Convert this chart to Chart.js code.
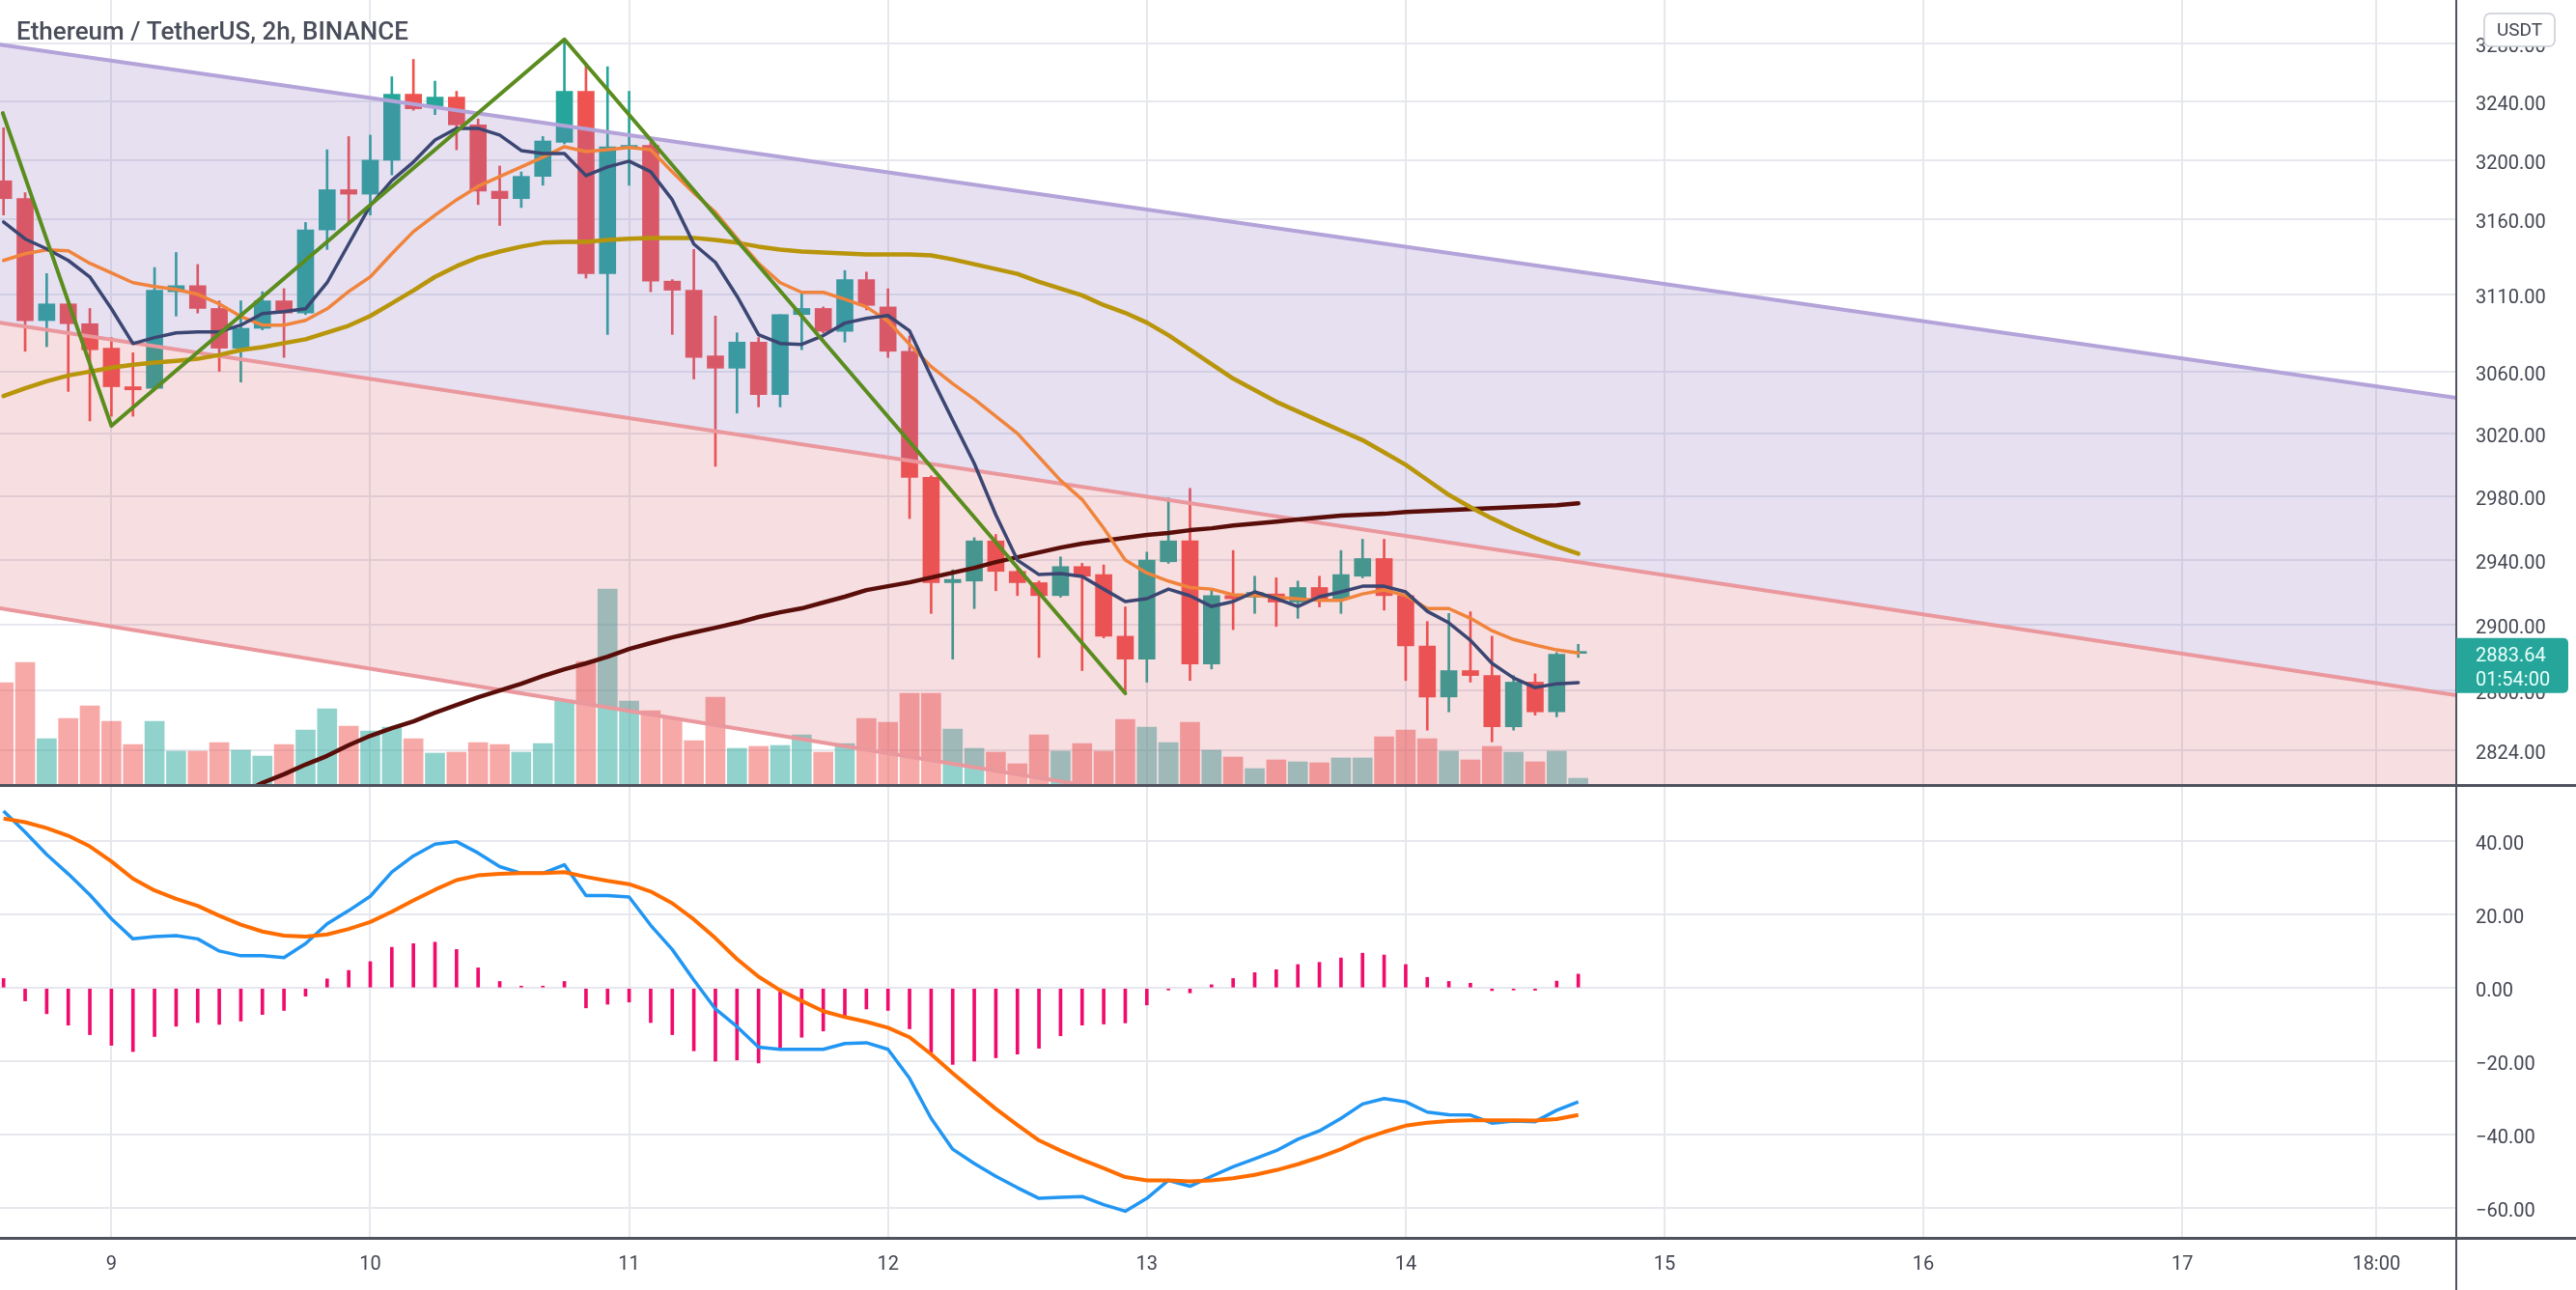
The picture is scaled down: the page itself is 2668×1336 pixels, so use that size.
<!DOCTYPE html>
<html>
<head>
<meta charset="utf-8">
<script src="https://cdn.jsdelivr.net/npm/chart.js@4.4.1/dist/chart.umd.min.js"></script>
<style>
html,body{margin:0;padding:0;background:#ffffff;overflow:hidden;}
#wrap{position:relative;width:2668px;height:1336px;}
canvas{position:absolute;left:0;}
#c1{top:0;}
#c2{top:812px;}
</style>
</head>
<body>
<div id="wrap">
<canvas id="c1" width="2668" height="812"></canvas>
<canvas id="c2" width="2668" height="524"></canvas>
</div>
<script>
// ---------------- DATA ----------------
const title = 'Ethereum / TetherUS, 2h, BINANCE';
const currencyLabel = 'USDT';
const lastPrice = 2883.64;
const countdown = '01:54:00';

// first bar: day 8, 14:00 ; 2h bars
const FIRST_BAR_DAY = 8 + 14 / 24;
const BAR_HOURS = 2;

const open = [3186,3174,3093,3104,3091,3075,3050,3049,3112,3116,
  3101,3075,3088,3106,3098,3153,3180,3177,3200,3245,
  3237,3243,3224,3179,3174,3189,3212,3247,3124,3208,
  3210,3119,3113,3070,3062,3079,3045,3097,3101,3086,
  3120,3102,3073,2992,2926,2927,2952,2933,2926,2918,
  2936,2931,2893,2879,2939,2952,2876,2918,2917,2919,
  2914,2923,2916,2930,2941,2918,2887,2856,2872,2869,
  2838,2865,2847,2882.5];
const high = [3222,3178,3124,3106,3101,3082,3072,3128,3138,3130,
  3106,3106,3112,3114,3158,3207,3216,3217,3257,3269,
  3254,3247,3228,3196,3192,3216,3283,3265,3264,3247,
  3212,3120,3140,3096,3085,3082,3097,3112,3102,3126,
  3125,3114,3083,2993,2934,2954,2956,2934,2927,2942,
  2938,2937,2911,2945,2979,2985,2922,2946,2930,2929,
  2927,2930,2946,2953,2953,2919,2902,2907,2908,2893,
  2869,2870,2883,2888];
const low = [3163,3073,3076,3047,3028,3031,3031,3048,3096,3098,
  3060,3053,3087,3069,3097,3140,3158,3163,3190,3234,
  3231,3207,3170,3156,3168,3183,3211,3121,3084,3183,
  3112,3084,3055,2999,3033,3037,3037,3074,3085,3079,
  3100,3069,2966,2907,2879,2910,2921,2918,2880,2917,
  2872,2892,2859,2865,2938,2866,2873,2897,2907,2899,
  2904,2911,2907,2929,2909,2866,2836,2847,2865,2829,
  2836,2845,2844,2880];
const close = [3174,3093,3104,3091,3074,3050,3048,3113,3116,3101,
  3075,3088,3106,3098,3153,3180,3177,3200,3245,3235,
  3243,3224,3179,3174,3189,3213,3247,3124,3209,3210,
  3119,3113,3069,3062,3079,3045,3097,3101,3086,3120,
  3103,3073,2992,2926,2928,2952,2933,2926,2918,2936,
  2930,2893,2879,2940,2952,2876,2918,2916,2920,2914,
  2923,2915,2931,2941,2918,2887,2856,2872,2869,2838,
  2865,2847,2882,2883.64];
// volume, thousand ETH
const volume = [52.5,63,23.5,34,40.5,32.5,20.5,32.5,17,17,
  21.5,17.5,14.5,20.5,28,39,30,27.5,29.5,23.5,
  16,16.5,21.5,20.5,16.5,21,43.5,63.5,101,43,
  38,34,22.5,45,18.5,19.5,20,25.5,16.5,21,
  34,32,47,47,28.5,18.5,16.5,10.5,25.5,17,
  21,17,33.5,29.5,21.5,32,17.5,14,8,12.5,
  11.5,11,13.5,13.5,24.5,28,23.5,17,12.5,19.5,
  16.5,11.5,17,3];

const maFast = [3158.3,3147,3140.4,3132.7,3121.8,3100.8,3078,3081.9,3085,3085.7,
  3085.7,3090.1,3097.6,3098.9,3100.8,3118,3143.6,3169.3,3186.2,3198.7,
  3213.7,3221.6,3221.6,3217,3206.5,3204.5,3204.5,3189.5,3195.4,3199.3,
  3192.1,3173.2,3143.6,3131.4,3109.1,3083.8,3078.1,3077.5,3083.2,3091.4,
  3094.5,3096.4,3086.3,3056.6,3028.5,3000.8,2968.3,2940,2931,2931.6,
  2929.8,2922,2914.3,2916.1,2922,2917.9,2911.3,2914.3,2920.3,2916.1,
  2911.3,2917.3,2920.3,2923.8,2923.8,2920.3,2908.3,2901.2,2890.5,2876.4,
  2867.5,2861.7,2864,2864.6];
const maMid = [3132.7,3137.2,3139.7,3139.1,3130.8,3124.4,3118,3115.4,3113.5,3110.3,
  3104,3095.7,3090.1,3090.1,3093.2,3100.8,3112.2,3121.8,3137.2,3151.9,
  3162.9,3173.2,3182.3,3188.8,3195.4,3201.9,3209.1,3205.8,3207.1,3208.5,
  3207.1,3192.1,3177.8,3164.8,3147.4,3130.8,3118,3111.6,3111.6,3107.1,
  3102,3092.6,3077.5,3063,3052,3042,3031,3020,3005,2990,
  2978,2960,2940,2932,2927,2923,2922,2918.5,2918,2917,
  2916,2915,2915,2919,2921.5,2918,2910,2910,2904,2896.4,
  2891,2887.6,2884.6,2882.8];
const maSlow = [3044,3049,3053.5,3057.3,3059.8,3062.4,3064.3,3065.6,3066.8,3068.1,
  3070.6,3073.8,3075.7,3078.3,3080.8,3085.3,3089.7,3096.1,3104.4,3112.8,
  3121.8,3128.9,3134.7,3138.6,3141.9,3144.5,3145.1,3145.1,3146.4,3147.1,
  3147.7,3147.7,3147.7,3146.4,3144.5,3141.9,3139.9,3138.6,3138,3137.3,
  3136.7,3136.7,3136.7,3136,3133.4,3130.2,3127,3123.8,3118.6,3114.1,
  3109.6,3103.2,3098.1,3091.7,3083.5,3074,3064.7,3055.3,3047.8,3040.3,
  3034.1,3027.9,3021.8,3015.7,3007.9,3000,2990.4,2980.9,2973.2,2966.1,
  2959.7,2953.9,2948.6,2944];
const maLong = [null,null,null,null,null,null,null,null,null,null,
  null,2798,2804.5,2809.6,2815.4,2820.6,2827,2832.6,2837.2,2841.3,
  2846.5,2851.2,2855.8,2859.9,2864,2868.7,2872.8,2876.4,2880.5,2885.2,
  2888.8,2892.3,2895.3,2898.2,2901.2,2904.8,2907.7,2910.1,2913.7,2917.3,
  2921.4,2923.8,2926.2,2929.2,2932.2,2935.2,2938.8,2941.8,2944.8,2947.8,
  2950.3,2952.1,2953.9,2955.7,2956.9,2958.7,2959.9,2961.7,2962.9,2964.1,
  2965.4,2966.6,2967.8,2968.4,2969,2970.2,2970.8,2971.4,2972,2972.6,
  2973.2,2973.8,2974.4,2975.6];

const macdLine = [48.2,42.5,36.4,31.1,25.4,18.9,13.4,14.0,14.3,13.4,
  10.1,8.8,8.8,8.3,12.1,17.5,21.1,25.0,31.6,36.0,
  39.2,39.9,36.8,33.1,31.3,31.3,33.6,25.2,25.2,24.8,
  17.1,10.5,2.2,-5.7,-10.5,-16.1,-16.7,-16.7,-16.7,-15.1,
  -14.9,-16.7,-24.6,-35.5,-43.9,-47.8,-51.3,-54.4,-57.3,-57.0,
  -56.8,-59.0,-60.8,-57.3,-52.4,-54.0,-51.3,-48.7,-46.5,-44.3,
  -41.2,-38.9,-35.5,-31.6,-30.1,-31.0,-33.8,-34.5,-34.6,-36.8,
  -36.2,-36.4,-33.3,-31.0];
const signalLine = [46.2,45.2,43.6,41.5,38.6,34.5,29.8,26.6,24.3,22.4,
  19.7,17.3,15.4,14.3,14.0,14.6,16.1,18.0,20.8,23.9,
  26.8,29.4,30.7,31.1,31.3,31.3,31.6,30.3,29.2,28.3,
  26.3,23.1,18.7,13.6,7.9,3.1,-0.6,-3.5,-6.3,-7.9,
  -9.2,-10.8,-13.4,-18.0,-23.2,-28.1,-32.9,-37.3,-41.5,-44.3,
  -46.8,-49.1,-51.5,-52.4,-52.4,-52.7,-52.4,-51.8,-50.9,-49.6,
  -48.0,-46.1,-43.9,-41.2,-39.2,-37.5,-36.7,-36.2,-36.0,-36.0,
  -36.0,-36.1,-35.7,-34.6];
const macdHist = [2.6,-3.5,-7.0,-10.1,-12.7,-15.6,-17.3,-13.2,-10.4,-9.4,
  -9.9,-9.0,-7.2,-6.1,-2.2,2.5,4.8,7.2,11.1,12.1,
  12.5,10.5,5.5,1.8,0.2,0.2,1.8,-5.4,-4.4,-3.8,
  -9.4,-12.7,-17.1,-19.9,-19.6,-20.4,-16.2,-13.4,-11.7,-7.5,
  -5.7,-6.1,-11.1,-17.5,-20.8,-19.9,-19.0,-18.0,-16.4,-13.0,
  -10.1,-9.8,-9.5,-4.6,-0.3,-1.3,0.9,2.6,4.2,5.0,
  6.4,7.0,8.2,9.5,9.0,6.4,2.9,1.8,1.3,-0.7,
  -0.3,-0.6,1.9,3.8];

// drawings (time in days, price)
const channelUpperX = [8.5696, 18.0585];
const channelUpperY = [3279.3, 3042.8];
const channelMidX = [8.5696, 18.0585];
const channelMidY = [3091.7, 2857.1];
const channelLowerX = [8.5696, 18.0585];
const channelLowerY = [2910.1, 2673.3];
const zigzagX = [8.5804, 9.0, 10.75, 12.9167];
const zigzagY = [3232, 3024.8, 3282.9, 2858.2];

// axes
const xTickValues = [9, 10, 11, 12, 13, 14, 15, 16, 17, 17.75];
const xTickLabels = ['9', '10', '11', '12', '13', '14', '15', '16', '17', '18:00'];
const priceTicks = [3280, 3240, 3200, 3160, 3110, 3060, 3020, 2980, 2940, 2900, 2860, 2824];
const macdTicks = [40, 20, 0, -20, -40, -60];
const X_MIN = 8.5696, X_MAX = 18.0585;
const PRICE_MIN = 2803.8, PRICE_MAX = 3310.4;
const VOL_MAX = 406;
const MACD_MIN = -67.8, MACD_MAX = 54.8;

// ---------------- STYLE ----------------
const UP = '#26a69a', DOWN = '#ef5350';
const UP_VOL = 'rgba(38,166,154,0.5)', DOWN_VOL = 'rgba(239,83,80,0.5)';
const GRID = '#e6e8ee';
const AXIS = '#50535e';
const TEXT = '#434651';
const FONT = 'Roboto, "Noto Sans", sans-serif';

Chart.defaults.font.family = FONT;
Chart.defaults.color = TEXT;

const times = open.map((_, i) => FIRST_BAR_DAY + i * BAR_HOURS / 24);
const isUp = open.map((o, i) => close[i] >= o);
const candleColors = isUp.map(u => u ? UP : DOWN);
const volColors = isUp.map(u => u ? UP_VOL : DOWN_VOL);
const xy = (xs, ys) => ys.map((y, i) => ({ x: xs[i], y }));

function lineDs(label, xs, ys, color, width, order, extra) {
  return Object.assign({
    type: 'line', label, data: xy(xs, ys), borderColor: color, backgroundColor: color,
    borderWidth: width, pointRadius: 0, tension: 0, fill: false, yAxisID: 'y', order,
    borderJoinStyle: 'round', borderCapStyle: 'round'
  }, extra || {});
}

const mainDatasets = [];
mainDatasets.push({ type: 'bar', label: 'Volume', yAxisID: 'yv', data: xy(times, volume),
  backgroundColor: volColors, barThickness: 20, grouped: false, order: 100, borderWidth: 0 });
mainDatasets.push({ type: 'bar', label: 'Wicks', yAxisID: 'y',
  data: times.map((t, i) => ({ x: t, y: [low[i], high[i]] })),
  backgroundColor: candleColors, barThickness: 2, grouped: false, order: 91, borderWidth: 0 });
mainDatasets.push({ type: 'bar', label: 'Bodies', yAxisID: 'y',
  data: times.map((t, i) => ({ x: t, y: [open[i], close[i]] })),
  backgroundColor: candleColors, barThickness: 17, minBarLength: 2, grouped: false, order: 90, borderWidth: 0 });
const idxUpper = mainDatasets.length;
const idxMid = idxUpper + 1;
const idxLower = idxUpper + 2;
mainDatasets.push(lineDs('Channel upper', channelUpperX, channelUpperY, '#b3a3d9', 4, 52,
  { fill: { target: idxMid, above: 'rgba(135,110,190,0.21)', below: 'rgba(135,110,190,0.21)' } }));
mainDatasets.push(lineDs('Channel mid', channelMidX, channelMidY, '#ea989d', 4, 51,
  { fill: { target: idxLower, above: 'rgba(215,80,95,0.19)', below: 'rgba(215,80,95,0.19)' } }));
mainDatasets.push(lineDs('Channel lower', channelLowerX, channelLowerY, '#ea989d', 4, 50));
mainDatasets.push(lineDs('MA 200', times, maLong, '#5a0e0a', 4.5, 43));
mainDatasets.push(lineDs('MA 50', times, maSlow, '#b8950b', 4.5, 42));
mainDatasets.push(lineDs('MA 21', times, maMid, '#f0843c', 3.5, 41));
mainDatasets.push(lineDs('MA 9', times, maFast, '#3b4672', 3.5, 40));
mainDatasets.push(lineDs('Zigzag', zigzagX, zigzagY, '#5a8c1e', 4, 10));

function roundRect(ctx, x, y, w, h, r) {
  ctx.beginPath();
  ctx.moveTo(x + r[0], y);
  ctx.lineTo(x + w - r[1], y);
  ctx.arcTo(x + w, y, x + w, y + r[1], r[1]);
  ctx.lineTo(x + w, y + h - r[2]);
  ctx.arcTo(x + w, y + h, x + w - r[2], y + h, r[2]);
  ctx.lineTo(x + r[3], y + h);
  ctx.arcTo(x, y + h, x, y + h - r[3], r[3]);
  ctx.lineTo(x, y + r[0]);
  ctx.arcTo(x, y, x + r[0], y, r[0]);
  ctx.closePath();
}

const overlayMain = {
  id: 'overlayMain',
  afterDraw(chart) {
    const ctx = chart.ctx, ca = chart.chartArea, ys = chart.scales.y;
    ctx.save();
    ctx.fillStyle = AXIS;
    ctx.fillRect(ca.right - 1, 0, 2, chart.height);
    ctx.font = '500 26px ' + FONT;
    ctx.fillStyle = '#4a4e5a';
    ctx.textAlign = 'left';
    ctx.textBaseline = 'alphabetic';
    ctx.fillText(title, 17, 41);
    roundRect(ctx, 2573, 14, 73, 34, [6, 6, 6, 6]);
    ctx.fillStyle = '#ffffff';
    ctx.fill();
    ctx.lineWidth = 1.5;
    ctx.strokeStyle = '#c8cbd3';
    ctx.stroke();
    ctx.fillStyle = TEXT;
    ctx.font = '19px ' + FONT;
    ctx.textAlign = 'center';
    ctx.textBaseline = 'middle';
    ctx.fillText(currencyLabel, 2609.5, 32);
    const py = ys.getPixelForValue(lastPrice);
    roundRect(ctx, ca.right, py - 14, 116, 57, [0, 5, 5, 0]);
    ctx.fillStyle = UP;
    ctx.fill();
    ctx.fillStyle = '#eafffb';
    ctx.font = '20px ' + FONT;
    ctx.textAlign = 'left';
    ctx.fillText(lastPrice.toFixed(2), ca.right + 20, py + 5);
    ctx.fillText(countdown, ca.right + 20, py + 30);
    ctx.restore();
  }
};

const overlayMacd = {
  id: 'overlayMacd',
  afterDraw(chart) {
    const ctx = chart.ctx, ca = chart.chartArea;
    ctx.save();
    ctx.fillStyle = AXIS;
    ctx.fillRect(0, 0, chart.width, 3);
    ctx.fillRect(0, ca.bottom, chart.width, 3);
    ctx.fillRect(ca.right - 1, 0, 2, chart.height);
    ctx.restore();
  }
};

const fmt = v => (v < 0 ? '\u2212' : '') + Math.abs(v).toFixed(2);
// two-line label with a tiny line height nudges the visible text down onto its grid line
const axisLabel = v => ['', fmt(Number(v))];
const noPad = s => { s.paddingTop = 0; s.paddingBottom = 0; s.paddingLeft = 0; s.paddingRight = 0; };

const xCommon = {
  type: 'linear', min: X_MIN, max: X_MAX, offset: false, bounds: 'data',
  afterBuildTicks: s => { s.ticks = xTickValues.map(v => ({ value: v })); },
  grid: { color: GRID, lineWidth: 2, drawTicks: false, offset: false },
  border: { display: false }
};

new Chart(document.getElementById('c1'), {
  type: 'bar',
  data: { datasets: mainDatasets },
  options: {
    responsive: false, animation: false, devicePixelRatio: 1, events: [],
    layout: { padding: 0 },
    plugins: { legend: { display: false }, tooltip: { enabled: false } },
    scales: {
      x: Object.assign({}, xCommon, {
        ticks: { display: false },
        afterFit: s => { s.height = 0; noPad(s); }
      }),
      y: {
        type: 'logarithmic', position: 'right', min: PRICE_MIN, max: PRICE_MAX,
        afterBuildTicks: s => { s.ticks = priceTicks.map(v => ({ value: v })); },
        ticks: { callback: axisLabel, color: TEXT, font: { size: 20, lineHeight: 0.4 }, padding: 20, autoSkip: false },
        grid: { color: GRID, lineWidth: 2, drawTicks: false },
        border: { display: false },
        afterFit: s => { s.width = 124; noPad(s); }
      },
      yv: { type: 'linear', display: false, min: 0, max: VOL_MAX }
    }
  },
  plugins: [overlayMain]
});

new Chart(document.getElementById('c2'), {
  type: 'bar',
  data: {
    datasets: [
      { type: 'bar', label: 'Histogram', data: xy(times, macdHist), backgroundColor: '#f00c6c',
        barThickness: 3, minBarLength: 2, grouped: false, order: 3, borderWidth: 0 },
      { type: 'line', label: 'MACD', data: xy(times, macdLine), borderColor: '#2196f3', borderWidth: 3.5,
        pointRadius: 0, tension: 0, order: 2, borderJoinStyle: 'round' },
      { type: 'line', label: 'Signal', data: xy(times, signalLine), borderColor: '#ff6d00', borderWidth: 4,
        pointRadius: 0, tension: 0, order: 1, borderJoinStyle: 'round' }
    ]
  },
  options: {
    responsive: false, animation: false, devicePixelRatio: 1, events: [],
    layout: { padding: { top: 3, left: 0, right: 0, bottom: 0 } },
    plugins: { legend: { display: false }, tooltip: { enabled: false } },
    scales: {
      x: Object.assign({}, xCommon, {
        ticks: { callback: (v, i) => xTickLabels[i], color: TEXT, font: { size: 20 }, padding: 17,
          maxRotation: 0, autoSkip: false },
        afterFit: s => { s.height = 55; noPad(s); }
      }),
      y: {
        type: 'linear', position: 'right', min: MACD_MIN, max: MACD_MAX,
        afterBuildTicks: s => { s.ticks = macdTicks.map(v => ({ value: v })); },
        ticks: { callback: axisLabel, color: TEXT, font: { size: 20, lineHeight: 0.4 }, padding: 20, autoSkip: false },
        grid: { color: GRID, lineWidth: 2, drawTicks: false },
        border: { display: false },
        afterFit: s => { s.width = 124; noPad(s); }
      }
    }
  },
  plugins: [overlayMacd]
});
</script>
</body>
</html>
